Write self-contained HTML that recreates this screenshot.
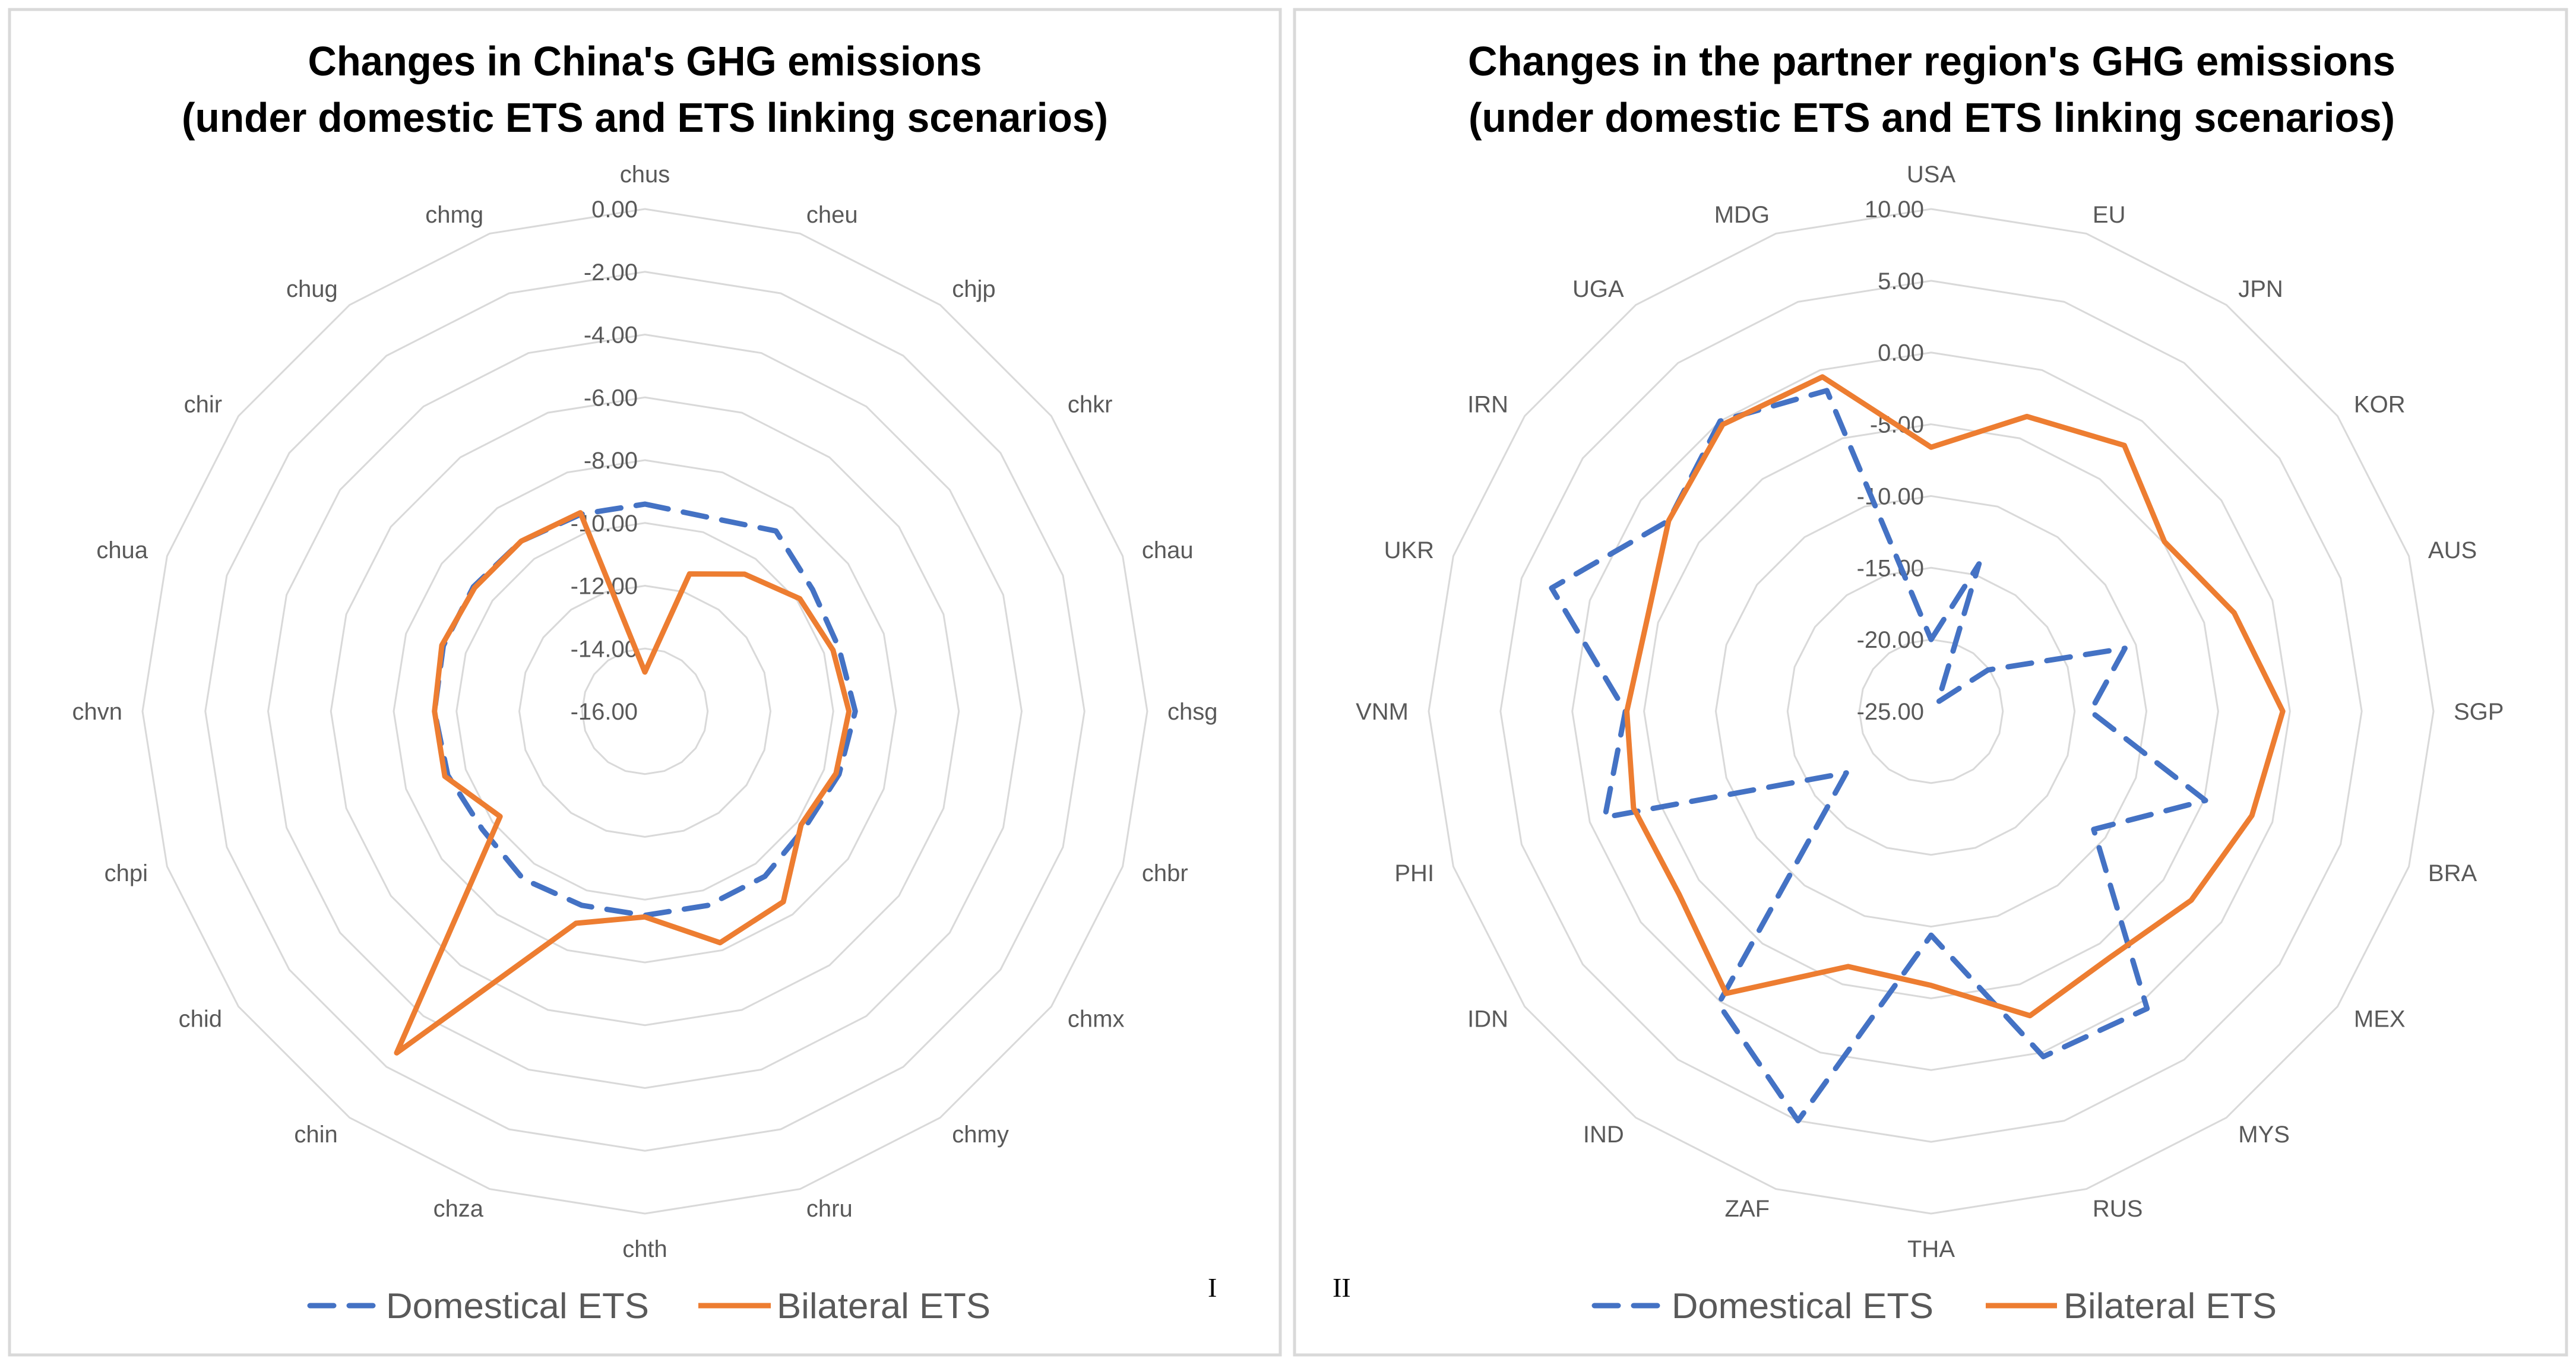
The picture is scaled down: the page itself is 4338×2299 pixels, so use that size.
<!DOCTYPE html>
<html><head><meta charset="utf-8">
<style>
html,body{margin:0;padding:0;background:#fff;}
svg{display:block;}
</style></head>
<body>
<svg id="chart" xmlns="http://www.w3.org/2000/svg" width="4338" height="2299" viewBox="0 0 4338 2299">
<rect x="0" y="0" width="4338" height="2299" fill="#fff"/>
<rect x="16" y="16" width="2140" height="2266" fill="#fff" stroke="#d9d9d9" stroke-width="5"/>
<rect x="2180" y="16" width="2142" height="2266" fill="#fff" stroke="#d9d9d9" stroke-width="5"/>
<g font-family="'Liberation Sans', sans-serif" font-weight="bold" font-size="70" fill="#000" text-anchor="middle">
<text x="1086" y="127" textLength="1135" lengthAdjust="spacingAndGlyphs">Changes in China's GHG emissions</text>
<text x="1086" y="222" textLength="1560" lengthAdjust="spacingAndGlyphs">(under domestic ETS and ETS linking scenarios)</text>
<text x="3253" y="127" textLength="1562" lengthAdjust="spacingAndGlyphs">Changes in the partner region's GHG emissions</text>
<text x="3253" y="222" textLength="1560" lengthAdjust="spacingAndGlyphs">(under domestic ETS and ETS linking scenarios)</text>
</g>
<g id="left"></g>
<g id="right"></g>
<g font-family="'Liberation Sans', sans-serif" font-size="60" fill="#595959">
<line x1="522" y1="2199" x2="630" y2="2199" stroke="#4472c4" stroke-width="9" stroke-dasharray="40 26" stroke-linecap="round"/>
<text x="650" y="2220" textLength="443" lengthAdjust="spacingAndGlyphs">Domestical ETS</text>
<line x1="1176" y1="2199" x2="1298" y2="2199" stroke="#ed7d31" stroke-width="9"/>
<text x="1308" y="2220" textLength="360" lengthAdjust="spacingAndGlyphs">Bilateral ETS</text>
<line x1="2685" y1="2199" x2="2793" y2="2199" stroke="#4472c4" stroke-width="9" stroke-dasharray="40 26" stroke-linecap="round"/>
<text x="2815" y="2220" textLength="441" lengthAdjust="spacingAndGlyphs">Domestical ETS</text>
<line x1="3344" y1="2199" x2="3464" y2="2199" stroke="#ed7d31" stroke-width="9"/>
<text x="3475" y="2220" textLength="359" lengthAdjust="spacingAndGlyphs">Bilateral ETS</text>
</g>
<g font-family="'Liberation Serif', serif" font-size="46" fill="#000">
<text x="2034" y="2184">I</text>
<text x="2244" y="2184">II</text>
</g>
</svg>
<script>
const leftCategories = ["chus","cheu","chjp","chkr","chau","chsg","chbr","chmx","chmy","chru","chth","chza","chin","chid","chpi","chvn","chua","chir","chug","chmg"];
const leftDomestic = [-9.4,-9.5,-8.9,-9.4,-9.5,-9.3,-9.5,-9.7,-9.5,-9.5,-9.5,-9.5,-9.4,-9.6,-9.4,-9.3,-9.25,-9.25,-9.3,-9.4];
const leftBilateral = [-14.75,-11.4,-10.6,-9.9,-9.7,-9.5,-9.6,-9.85,-8.5,-8.25,-9.45,-8.9,-2.55,-10.3,-9.3,-9.3,-9.2,-9.3,-9.3,-9.35];
const leftTicks = [0,-2,-4,-6,-8,-10,-12,-14,-16];
const rightCategories = ["USA","EU","JPN","KOR","AUS","SGP","BRA","MEX","MYS","RUS","THA","ZAF","IND","IDN","PHI","VNM","UKR","IRN","UGA","MDG"];
const rightDomestic = [-20,-14.2,-24.2,-20.1,-10.8,-13.9,-4.9,-11.0,0.6,0.3,-9.4,5,0.2,-17.7,-1.1,-3.7,2.8,-2.4,0,-1.5];
const rightBilateral = [-6.6,-3.4,-2.1,-4.9,-2.8,-0.5,-1.5,-2.6,-3.8,-2.7,-5.9,-6.3,-0.7,-3.3,-3.2,-3.8,-4.2,-2.4,-0.3,-0.5];
const rightTicks = [10,5,0,-5,-10,-15,-20,-25];

const NS = "http://www.w3.org/2000/svg";
function mk(tag, attrs, parent){const e=document.createElementNS(NS,tag);for(const k in attrs)e.setAttribute(k,attrs[k]);parent.appendChild(e);return e;}

function drawRadar(g, prefix, cx, cy, R, cats, ticks, series1, series2){
  const vmax = Math.max(...ticks), vmin = Math.min(...ticks);
  const n = cats.length;
  const rScale = v => (v - vmin) / (vmax - vmin) * R;
  const pt = (i, r) => { const a = i * 2 * Math.PI / n; return [cx + r * Math.sin(a), cy - r * Math.cos(a)]; };
  ticks.forEach(t => {
    const r = rScale(t);
    if (r <= 0) return;
    const pts = cats.map((c,i)=>pt(i,r).join(",")).join(" ");
    const p = mk("polygon",{points:pts,fill:"none",stroke:"#d9d9d9","stroke-width":3},g);
    
    
  });
  cats.forEach((c,i)=>{
    const s = Math.sin(i * 2 * Math.PI / n);
    let anchor = "middle", rr = 905;
    if (s > 0.05) { anchor = "start"; rr = 880; }
    else if (s < -0.05) { anchor = "end"; rr = 880; }
    const [lx,ly] = pt(i,rr);
    const t = mk("text",{x:lx,y:ly+14,"text-anchor":anchor,"font-family":"'Liberation Sans', sans-serif","font-size":40,fill:"#595959"},g);
    t.textContent = c;
    
    
  });
  ticks.forEach(tk=>{
    const r = rScale(tk);
    const t = mk("text",{x:cx-12,y:cy-r+14,"text-anchor":"end","font-family":"'Liberation Sans', sans-serif","font-size":40,fill:"#595959"},g);
    t.textContent = tk.toFixed(2);
    
    
  });
  const p1 = mk("polygon",{points:series1.map((v,i)=>pt(i,rScale(v)).join(",")).join(" "),fill:"none",stroke:"#4472c4","stroke-width":9,"stroke-dasharray":"40 26","stroke-linecap":"round","stroke-linejoin":"round"},g);
  
  
  const p2 = mk("polygon",{points:series2.map((v,i)=>pt(i,rScale(v)).join(",")).join(" "),fill:"none",stroke:"#ed7d31","stroke-width":9,"stroke-linejoin":"round"},g);
  
  
}
drawRadar(document.getElementById("left"), "left", 1086, 1198, 846, leftCategories, leftTicks, leftDomestic, leftBilateral);
drawRadar(document.getElementById("right"), "right", 3252, 1198, 846, rightCategories, rightTicks, rightDomestic, rightBilateral);
</script>
</body></html>
